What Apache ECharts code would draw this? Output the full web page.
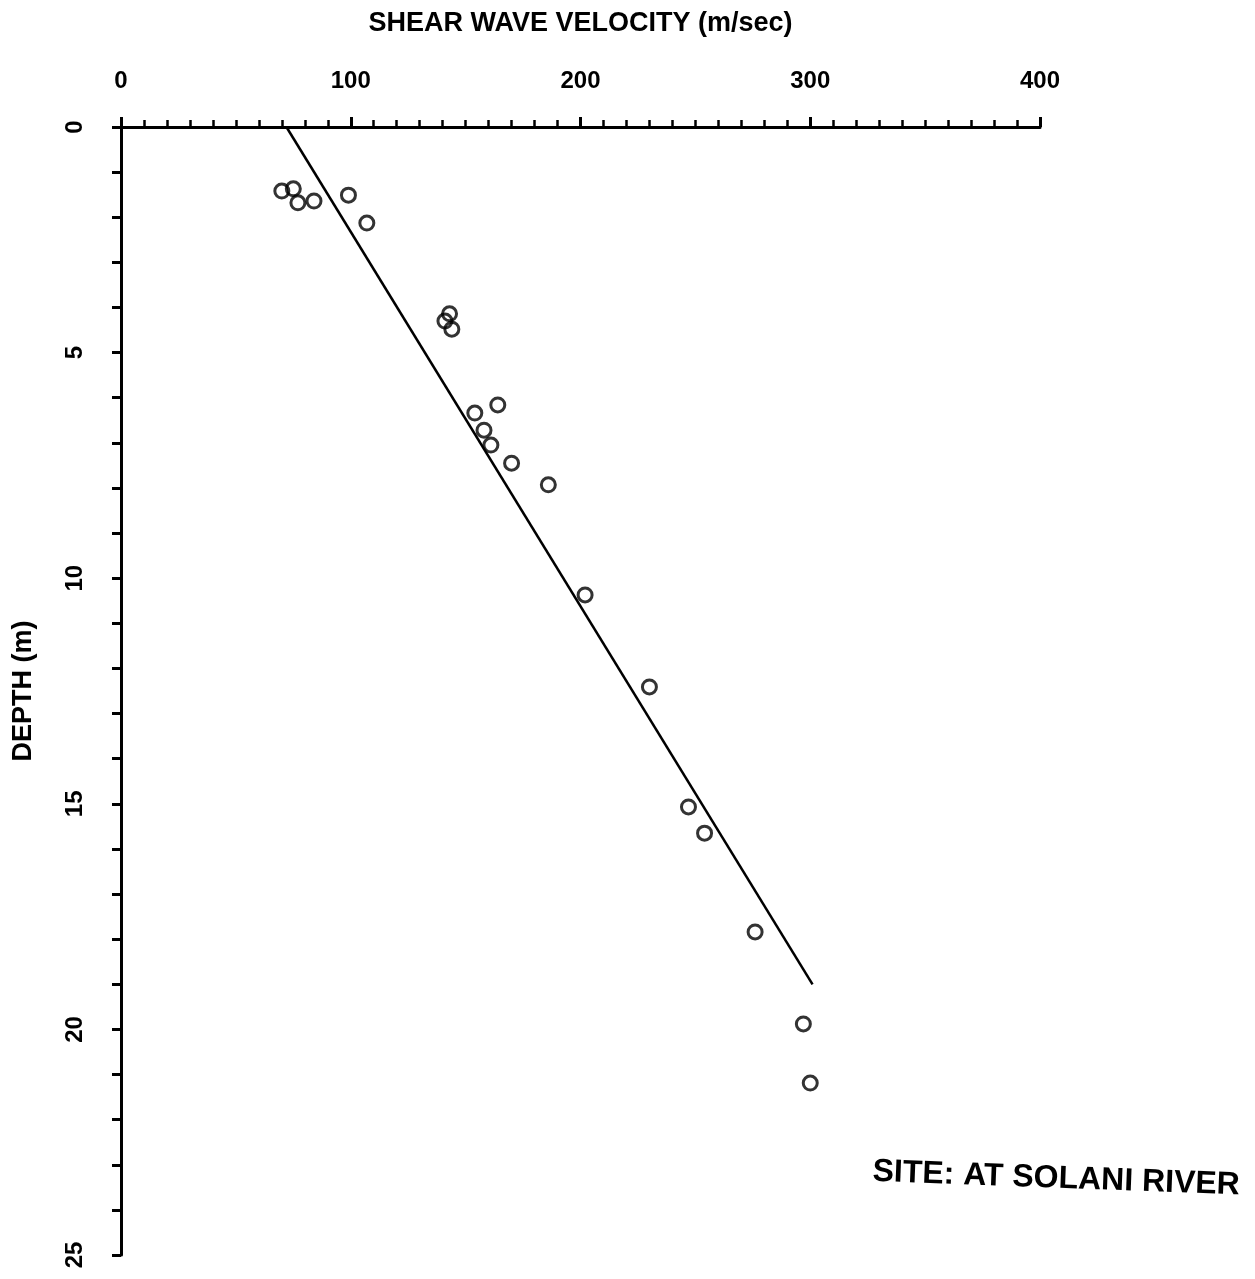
<!DOCTYPE html>
<html lang="en">
<head>
    <meta charset="UTF-8">
    <title>Shear wave velocity</title>
    <script src="https://cdn.jsdelivr.net/npm/echarts@6/dist/echarts.min.js"></script>
    <style>
        html, body { margin: 0; padding: 0; background: #fff; }
        #main { width: 1255px; height: 1279px; }
    </style>
</head>
<body>
<div id="main"></div>
<script>
    // measured points (velocity m/sec, depth m)
    var velocity = [70, 75, 77, 84, 99, 107, 141, 143, 144, 154, 164, 158, 161, 170, 186, 202, 230, 247, 254, 276, 297, 300];
    var depth = [1.42, 1.37, 1.68, 1.64, 1.51, 2.13, 4.30, 4.14, 4.48, 6.34, 6.16, 6.72, 7.05, 7.45, 7.93, 10.37, 12.41, 15.07, 15.65, 17.84, 19.88, 21.19];
    // fitted line ends
    var fitVelocity = [72, 301];
    var fitDepth = [0, 19];

    var font = '"Liberation Sans", Arial, sans-serif';

    var points = velocity.map(function (v, i) { return [v, depth[i]]; });
    var fit = fitVelocity.map(function (v, i) { return [v, fitDepth[i]]; });

    var myChart = echarts.init(document.getElementById('main'));
    var option = {
        animation: false,
        backgroundColor: '#fff',
        grid: { left: 121, top: 127, right: 215, bottom: 24 },
        xAxis: {
            type: 'value',
            position: 'top',
            min: 0, max: 400, interval: 100,
            name: 'SHEAR WAVE VELOCITY (m/sec)',
            nameLocation: 'middle',
            nameGap: 90,
            nameTextStyle: { color: '#000', fontSize: 27, fontWeight: 'bold', fontFamily: font },
            axisLine: { onZero: false, lineStyle: { color: '#000', width: 3 } },
            axisTick: { length: 10, lineStyle: { color: '#000', width: 3 } },
            minorTick: { show: true, splitNumber: 10, length: 7, lineStyle: { color: '#000', width: 2.5 } },
            axisLabel: { color: '#000', fontSize: 24, fontWeight: 'bold', fontFamily: font, margin: 34 },
            splitLine: { show: false },
            minorSplitLine: { show: false }
        },
        yAxis: {
            type: 'value',
            inverse: true,
            min: 0, max: 25, interval: 5,
            name: 'DEPTH (m)',
            nameLocation: 'middle',
            nameRotate: 90,
            nameGap: 84,
            nameTextStyle: { color: '#000', fontSize: 27, fontWeight: 'bold', fontFamily: font },
            axisLine: { onZero: false, lineStyle: { color: '#000', width: 3 } },
            axisTick: { length: 9, lineStyle: { color: '#000', width: 3 } },
            minorTick: { show: true, splitNumber: 5, length: 9, lineStyle: { color: '#000', width: 3 } },
            axisLabel: { color: '#000', fontSize: 24, fontWeight: 'bold', fontFamily: font, rotate: 90, margin: 34 },
            splitLine: { show: false },
            minorSplitLine: { show: false }
        },
        series: [{
            type: 'line',
            data: fit,
            symbol: 'none',
            lineStyle: { color: '#000', width: 2.5 },
            z: 2
        }, {
            type: 'scatter',
            data: points,
            symbol: 'circle',
            symbolSize: 14,
            itemStyle: { color: 'rgba(0,0,0,0)', borderColor: '#000', borderWidth: 3 },
            z: 3
        }],
        graphic: [{
            type: 'text',
            left: 872,
            top: 1156,
            rotation: -0.037,
            style: {
                text: 'SITE: AT SOLANI RIVER',
                fill: '#000',
                font: 'bold 32px ' + font
            }
        }]
    };
    myChart.setOption(option);
</script>
</body>
</html>
